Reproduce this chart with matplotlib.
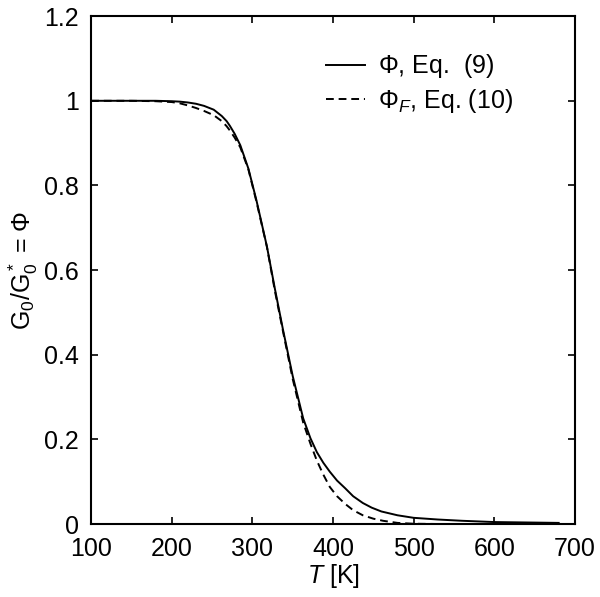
import matplotlib
matplotlib.use("Agg")
import matplotlib.pyplot as plt
from matplotlib.ticker import FuncFormatter

plt.rcParams['font.family'] = ['Liberation Sans', 'DejaVu Sans']
plt.rcParams['mathtext.fontset'] = 'custom'
plt.rcParams['mathtext.rm'] = 'Liberation Sans'
plt.rcParams['mathtext.it'] = 'Liberation Sans:italic'

# Phi, Eq. (9)
T_phi = [100, 150, 180, 200, 210, 220, 230, 240, 252, 262, 268, 272, 278, 285, 295,
         305, 318, 328, 338, 350, 363, 372, 380, 388, 396, 405, 415, 425, 437, 448,
         460, 480, 500, 530, 560, 600, 640, 680]
phi = [1.0, 1.0, 1.0, 0.999, 0.998, 0.996, 0.993, 0.988, 0.979, 0.964, 0.952, 0.941,
       0.922, 0.895, 0.84, 0.765, 0.656, 0.555, 0.459, 0.35, 0.25, 0.203, 0.17, 0.145,
       0.124, 0.103, 0.085, 0.066, 0.05, 0.039, 0.03, 0.021, 0.015, 0.011, 0.008,
       0.005, 0.004, 0.003]

# Phi_F, Eq. (10)
T_phiF = [100, 150, 180, 200, 210, 220, 230, 240, 252, 262, 268, 272, 278, 285, 295,
          305, 318, 328, 338, 350, 363, 372, 380, 388, 396, 405, 415, 425, 437, 450,
          462, 480, 500, 550, 600, 680]
phiF = [1.0, 1.0, 0.999, 0.997, 0.994, 0.989, 0.983, 0.976, 0.966, 0.952, 0.94, 0.93,
        0.913, 0.89, 0.838, 0.762, 0.655, 0.55, 0.455, 0.343, 0.24, 0.19, 0.15, 0.117,
        0.088, 0.066, 0.048, 0.033, 0.021, 0.013, 0.008, 0.003, 0.001, 0.0, 0.0, 0.0]

fig = plt.figure(figsize=(6.0, 5.97), dpi=100)
ax = fig.add_axes([0.152, 0.122, 0.806, 0.851])

ax.plot(T_phi, phi, color='black', lw=1.4, label=r'$\Phi$, Eq.  (9)')
ax.plot(T_phiF, phiF, color='black', lw=1.4, ls=(0, (4, 2.5)),
        label=r'$\Phi_{\it F}$, Eq. (10)')

ax.set_xlim(100, 700)
ax.set_ylim(0, 1.2)
ax.set_xticks([100, 200, 300, 400, 500, 600, 700])
ax.set_yticks([0, 0.2, 0.4, 0.6, 0.8, 1.0, 1.2])
ax.yaxis.set_major_formatter(FuncFormatter(lambda v, p: f'{v:g}'))
ax.tick_params(direction='in', top=True, right=True, length=5, width=1.2,
               labelsize=18)
ax.tick_params(axis='x', pad=9)
ax.tick_params(axis='y', pad=9)
for s in ax.spines.values():
    s.set_linewidth(1.5)

ax.set_xlabel(r'$\it{T}$ [K]', fontsize=18, labelpad=1)
ax.set_ylabel(r'G$_0$/G$_0^*$ = $\Phi$', fontsize=18, labelpad=3)

ax.legend(loc='upper left', bbox_to_anchor=(0.44, 0.973), frameon=False,
          fontsize=18, handlelength=1.55, handletextpad=0.5, labelspacing=0.25)

fig.savefig('out.png', dpi=100)
